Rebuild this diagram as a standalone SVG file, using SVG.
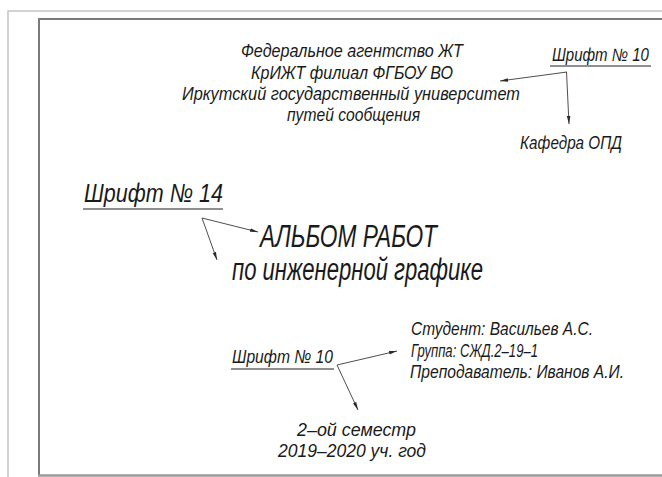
<svg xmlns="http://www.w3.org/2000/svg" width="662" height="477" viewBox="0 0 662 477">
<style>
.t{font-family:"Liberation Sans","DejaVu Sans",sans-serif;font-style:italic;fill:#1a1a1a;}
.s17{font-size:18px;}
.s19{font-size:19px;}
.s26{font-size:26px;}
.s32{font-size:31px;}
.ul{stroke:#6a6a6a;stroke-width:1.6;fill:none;}
.ld{stroke:#3a3a3a;stroke-width:0.9;fill:none;marker-end:url(#ah);}
</style>
<defs>
<marker id="ah" markerUnits="userSpaceOnUse" markerWidth="10" markerHeight="6" refX="8" refY="3" orient="auto">
<path d="M0,1.2 L8,3 L0,4.8 Z" fill="#2a2a2a"/>
</marker>
</defs>
<rect width="662" height="477" fill="#ffffff"/>
<g id="frame">
<path d="M8,477 L8,11 L662,11" stroke="#c4c4c4" stroke-width="1.5" fill="none"/>
<path d="M39,476 L39,19 L664,19" stroke="#7a7a7a" stroke-width="2" fill="none"/>
<path d="M38,475.5 L664,475.5" stroke="#9a9a9a" stroke-width="2.5" fill="none"/>
</g>
<g id="header">
<text class="t s19" x="241" y="57" textLength="222" lengthAdjust="spacingAndGlyphs">Федеральное агентство ЖТ</text>
<text class="t s19" x="251" y="79" textLength="202" lengthAdjust="spacingAndGlyphs">КрИЖТ филиал ФГБОУ ВО</text>
<text class="t s19" x="182" y="100" textLength="338" lengthAdjust="spacingAndGlyphs">Иркутский государственный университет</text>
<text class="t s19" x="287" y="121" textLength="133" lengthAdjust="spacingAndGlyphs">путей сообщения</text>
</g>
<g id="font10-top">
<g transform="matrix(0.85,0,0,1,552,61)">
<text class="t s17" x="0" y="0" textLength="114" lengthAdjust="spacingAndGlyphs">Шрифт № 10</text>
</g>
<path class="ul" d="M550,66 L651,66"/>
</g>
<g id="kafedra">
<text class="t s17" x="520" y="149" textLength="102" lengthAdjust="spacingAndGlyphs">Кафедра ОПД</text>
</g>
<g id="font14">
<text class="t s26" x="84" y="202" textLength="139" lengthAdjust="spacingAndGlyphs">Шрифт № 14</text>
<path class="ul" d="M83,209 L223,209"/>
</g>
<g id="title">
<text class="t s32" x="260" y="246.5" textLength="177" lengthAdjust="spacingAndGlyphs">АЛЬБОМ РАБОТ</text>
<text class="t s32" x="232" y="279.5" textLength="251" lengthAdjust="spacingAndGlyphs">по инженерной графике</text>
</g>
<g id="font10-bottom">
<text class="t s19" x="232" y="363" textLength="101" lengthAdjust="spacingAndGlyphs">Шрифт № 10</text>
<path class="ul" d="M231,369 L334,369"/>
</g>
<g id="people">
<text class="t s19" x="411" y="335" textLength="182" lengthAdjust="spacingAndGlyphs">Студент: Васильев А.С.</text>
<text class="t s19" x="411" y="356.5" textLength="127" lengthAdjust="spacingAndGlyphs">Группа: СЖД.2–19–1</text>
<g transform="matrix(0.8,0,0,1,410,378)">
<text class="t s19" x="0" y="0" textLength="267.5" lengthAdjust="spacingAndGlyphs">Преподаватель: Иванов А.И.</text>
</g>
</g>
<g id="semester">
<text class="t s19" x="297" y="436" textLength="119" lengthAdjust="spacingAndGlyphs">2–ой семестр</text>
<text class="t s19" x="278" y="457" textLength="148" lengthAdjust="spacingAndGlyphs">2019–2020 уч. год</text>
</g>
<g id="connectors">
<path class="ld" d="M567,72 L500,81"/>
<path class="ld" d="M566.5,72 L569,124"/>
<path class="ld" d="M202,218 L258,232"/>
<path class="ld" d="M202,218 L217,260"/>
<path class="ld" d="M337,365 L397,351"/>
<path class="ld" d="M337,365 L358,410"/>
</g>
</svg>
